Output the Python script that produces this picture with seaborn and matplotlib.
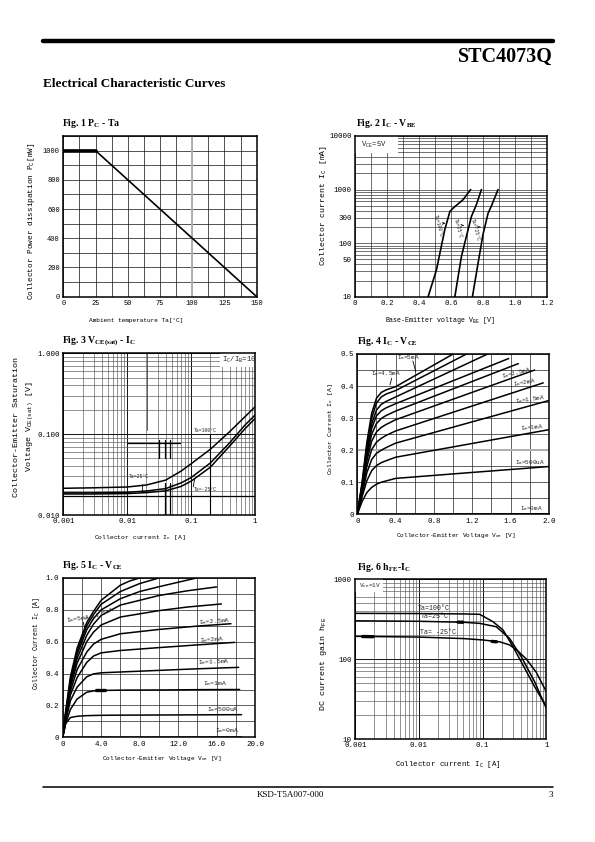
import matplotlib
matplotlib.use("Agg")
import matplotlib.pyplot as plt
import seaborn as sns
import numpy as np
from matplotlib.lines import Line2D
from matplotlib.patches import Rectangle
from matplotlib.ticker import LogLocator, NullFormatter

# ---------------- data ----------------
# Fig.1 Pc - Ta
pc_temp = [0, 25, 150]
pc_power = [1000, 1000, 0]
pc_xticks = [0, 25, 50, 75, 100, 125, 150]
pc_yticks = [0, 200, 400, 600, 800, 1000]

# Fig.2 Ic - VBE  (Ic in mA)
vbe_100 = [0.457, 0.509, 0.561, 0.593, 0.613, 0.676, 0.723]
ic_100 = [10, 31.6, 178, 389, 450, 650, 1000]
vbe_25 = [0.624, 0.665, 0.696, 0.728, 0.759, 0.790]
ic_25 = [10, 56, 133, 316, 525, 1000]
vbe_m25 = [0.734, 0.769, 0.800, 0.832, 0.852, 0.894]
ic_m25 = [10, 42, 145, 363, 490, 1000]
f2_yticks = [10, 50, 100, 300, 1000, 10000]
f2_xticks = [0, 0.2, 0.4, 0.6, 0.8, 1.0, 1.2]

# Fig.3 VCE(sat) - Ic
sat_ic = [0.001, 0.003, 0.01, 0.02, 0.04, 0.07, 0.1, 0.2, 0.4, 0.7, 1.0]
sat_100 = [0.0214, 0.0217, 0.0222, 0.0235, 0.027, 0.035, 0.043, 0.065, 0.107, 0.165, 0.217]
sat_25 = [0.0188, 0.0188, 0.0191, 0.0198, 0.0212, 0.025, 0.029, 0.044, 0.078, 0.130, 0.172]
sat_m25 = [0.0182, 0.0182, 0.0184, 0.0189, 0.0199, 0.0226, 0.0262, 0.039, 0.071, 0.117, 0.156]

# Fig.4 Ic - VCE (0-2 V)
f4_v = [0, 0.05, 0.1, 0.15, 0.2, 0.25, 0.3, 0.4]
f4_ib5 = [0, 0.100, 0.225, 0.315, 0.362, 0.380, 0.388, 0.398]
f4_ib45 = [0, 0.095, 0.215, 0.300, 0.347, 0.366, 0.375, 0.386]
f4_ib4 = [0, 0.090, 0.200, 0.282, 0.325, 0.343, 0.352, 0.366]
f4_ib35 = [0, 0.085, 0.190, 0.268, 0.307, 0.323, 0.332, 0.345]
f4_ib3 = [0, 0.080, 0.180, 0.250, 0.283, 0.299, 0.308, 0.322]
f4_ib25 = [0, 0.075, 0.166, 0.228, 0.257, 0.271, 0.280, 0.295]
f4_ib2 = [0, 0.070, 0.150, 0.202, 0.225, 0.237, 0.246, 0.260]
f4_ib15 = [0, 0.063, 0.130, 0.171, 0.190, 0.200, 0.208, 0.222]
f4_ib1 = [0, 0.055, 0.105, 0.136, 0.152, 0.161, 0.167, 0.178]
f4_ib05 = [0, 0.040, 0.068, 0.084, 0.094, 0.100, 0.104, 0.112]
f4_end_v = [1.00, 1.14, 1.36, 1.58, 1.68, 1.85, 1.94, 2.0, 2.0, 2.0]
f4_end_i = [0.500, 0.500, 0.500, 0.486, 0.470, 0.450, 0.410, 0.355, 0.264, 0.149]

# Fig.5 Ic - VCE (0-20 V)
f5_v = [0, 0.3, 0.8, 1.5, 2.5, 3.2, 4.0, 6.0]
f5_ib5 = [0, 0.160, 0.380, 0.560, 0.720, 0.790, 0.860, 0.955]
f5_ib45 = [0, 0.150, 0.360, 0.540, 0.700, 0.770, 0.835, 0.915]
f5_ib4 = [0, 0.145, 0.350, 0.520, 0.675, 0.745, 0.800, 0.870]
f5_ib35 = [0, 0.140, 0.335, 0.495, 0.640, 0.710, 0.765, 0.830]
f5_ib3 = [0, 0.130, 0.315, 0.465, 0.600, 0.660, 0.705, 0.755]
f5_ib25 = [0, 0.120, 0.290, 0.425, 0.535, 0.585, 0.615, 0.650]
f5_ib2 = [0, 0.110, 0.265, 0.375, 0.470, 0.510, 0.530, 0.545]
f5_ib15 = [0, 0.100, 0.230, 0.315, 0.380, 0.398, 0.405, 0.410]
f5_ib1 = [0, 0.085, 0.175, 0.240, 0.283, 0.291, 0.294, 0.296]
f5_ib05 = [0, 0.085, 0.124, 0.132, 0.136, 0.137, 0.138, 0.139]
f5_tail_v = [[7.0, 8.0], [8.0, 10.0], [8.0, 10.0, 13.9], [10, 13, 16.0], [10, 13, 16.5],
             [10, 14, 17.5], [10, 14, 17.9], [10, 14, 18.3], [10, 14, 18.4], [10, 14, 18.6]]
f5_tail_i = [[0.982, 1.0], [0.965, 1.0], [0.915, 0.945, 1.0], [0.890, 0.920, 0.944],
             [0.795, 0.818, 0.837], [0.677, 0.698, 0.713], [0.563, 0.580, 0.596],
             [0.420, 0.430, 0.439], [0.297, 0.299, 0.300], [0.140, 0.141, 0.142]]

# Fig.6 hFE - Ic
h100_ic = [0.001, 0.01, 0.05, 0.0898, 0.145, 0.209, 0.299, 0.43, 0.656, 1.0]
h100 = [372, 370, 366, 362, 293, 231, 143, 84, 45, 25.3]
h25_ic = [0.001, 0.01, 0.05, 0.0898, 0.164, 0.265, 0.404, 0.656, 1.0]
h25 = [300, 296, 288, 279, 253, 181, 107, 52, 24.2]
hm25_ic = [0.001, 0.01, 0.05, 0.1, 0.185, 0.265, 0.35, 0.485, 0.697, 1.0]
hm25 = [192, 188, 180, 173, 164, 150, 128, 100, 68, 39]

log_xticks = [0.001, 0.01, 0.1, 1]
log_xlabels = ["0.001", "0.01", "0.1", "1"]

# ---------------- figure ----------------
sns.set_theme(style="white")
plt.rcParams['font.family'] = ['Liberation Mono', 'DejaVu Sans Mono', 'DejaVu Sans']
plt.rcParams['mathtext.default'] = 'regular'

W, H = 595, 842
fig = plt.figure(figsize=(W / 100, H / 100), dpi=100)
fig.patch.set_facecolor('white')
SERIF = ['Liberation Serif', 'DejaVu Serif']


def fy(y):
    return 1 - y / H


def make_axes(box, tsize=5.4):
    L, T, R, B = box
    ax = fig.add_axes([L / W, 1 - B / H, (R - L) / W, (B - T) / H])
    ax.set_facecolor('white')
    for s in ax.spines.values():
        s.set_visible(True)
        s.set_color('black')
        s.set_linewidth(1.1)
    ax.tick_params(which='both', length=0, pad=2.5, labelsize=tsize, colors='black')
    ax.set_axisbelow(True)
    return ax


def set_labels(ax, box, xl, xpos, xsize, yl, ypos, ysize, ylsp=1.2):
    L, T, R, B = box
    ax.set_xlabel(xl, fontsize=xsize, color='black')
    ax.xaxis.label.set_va('center')
    ax.xaxis.set_label_coords((xpos[0] - L) / (R - L), (B - xpos[1]) / (B - T))
    ax.set_ylabel(yl, fontsize=ysize, color='black', linespacing=ylsp)
    ax.yaxis.label.set_va('center')
    ax.yaxis.label.set_ha('center')
    ax.yaxis.set_label_coords((ypos[0] - L) / (R - L), (B - ypos[1]) / (B - T))


def curve(ax, x, y, lw=1.1):
    sns.lineplot(x=x, y=y, ax=ax, color='black', lw=lw, estimator=None, sort=False)


def title(x, y, s):
    fig.text(x / W, fy(y), s, fontfamily=SERIF, fontweight='bold', fontsize=7,
             ha='left', va='center', color='black')


# header / footer
fig.add_artist(Line2D([43 / W, 553 / W], [fy(40.5)] * 2, lw=3.2, color='black'))
fig.text(553 / W, fy(57), "STC4073Q", fontfamily=SERIF, fontweight='bold', fontsize=14.5,
         ha='right', va='center', color='black')
fig.text(43 / W, fy(84), "Electrical Characteristic Curves", fontfamily=SERIF, fontweight='bold',
         fontsize=9.5, ha='left', va='center', color='black')
fig.add_artist(Line2D([43 / W, 553 / W], [fy(787)] * 2, lw=1.1, color='black'))
fig.text(290 / W, fy(795), "KSD-T5A007-000", fontfamily=SERIF, fontsize=6.5,
         ha='center', va='center', color='black')
fig.text(553 / W, fy(795), "3", fontfamily=SERIF, fontsize=6.5, ha='right', va='center', color='black')

# ---------- Fig 1 ----------
B1 = (63.3, 136, 256.7, 296.7)
ax1 = make_axes(B1, 5.0)
curve(ax1, pc_temp, pc_power, 1.2)
curve(ax1, pc_temp[:2], pc_power[:2], 2.6)
ax1.set_xlim(0, 150)
ax1.set_ylim(0, 1100)
ax1.set_xticks(pc_xticks)
ax1.set_xticklabels([str(v) for v in pc_xticks])
ax1.set_yticks(pc_yticks)
ax1.set_yticklabels([str(v) for v in pc_yticks])
ax1.set_xticks(np.arange(0, 150.1, 12.5), minor=True)
ax1.set_yticks(np.arange(0, 1101, 100), minor=True)
ax1.grid(which='both', color='#222222', lw=0.55)
ax1.axvline(100, color='#b0b0b0', lw=1.4, zorder=1)
set_labels(ax1, B1, "Ambient temperature Ta[°C]", (136, 321), 4.4,
           "Collector Power dissipation P$_C$[mW]", (31.7, 221.7), 5.6)
title(62, 124, "Fig. 1 P$_C$ - Ta")

# ---------- Fig 2 ----------
B2 = (355, 136, 547, 296.7)
ax2 = make_axes(B2)
ax2.set_yscale('log')
curve(ax2, vbe_100, ic_100, 1.2)
curve(ax2, vbe_25, ic_25, 1.2)
curve(ax2, vbe_m25, ic_m25, 1.2)
ax2.set_xlim(0, 1.2)
ax2.set_ylim(10, 10000)
ax2.set_xticks(f2_xticks)
ax2.set_xticklabels(["0", "0.2", "0.4", "0.6", "0.8", "1.0", "1.2"])
ax2.set_yticks(f2_yticks)
ax2.set_yticklabels([str(v) for v in f2_yticks])
ax2.yaxis.set_minor_locator(LogLocator(base=10, subs=np.arange(2, 10)))
ax2.yaxis.set_minor_formatter(NullFormatter())
ax2.set_xticks(np.arange(0, 1.21, 0.1), minor=True)
ax2.grid(which='both', color='#222222', lw=0.45)
ax2.add_patch(Rectangle((0, 0.894), 0.224, 0.106, transform=ax2.transAxes,
                        facecolor='white', edgecolor='none', zorder=1.5))
ax2.text(0.04, 6700, "V$_{CE}$=5V", fontsize=5.2, ha='left', va='center', zorder=3)
for (tx, ty, ax_, ay_, lab) in [(0.52, 215, 0.565, 235, "Ta=100°C"),
                                 (0.645, 190, 0.697, 215, "Ta=25°C"),
                                 (0.752, 178, 0.80, 200, "Ta=-25°C")]:
    ax2.annotate("", xy=(ax_, ay_), xytext=(tx + 0.012, ay_),
                 arrowprops=dict(arrowstyle='->', lw=0.5, color='black', mutation_scale=4))
    ax2.text(tx, ty, lab, fontsize=3.5, rotation=-75, ha='center', va='center', zorder=3)
set_labels(ax2, B2, "Base-Emitter voltage V$_{BE}$ [V]", (439.5, 320.7), 4.8,
           "Collector current I$_C$ [mA]", (323.3, 205), 5.9)
title(356, 124, "Fig. 2 I$_C$ - V$_{BE}$")

# ---------- Fig 3 ----------
B3 = (63.3, 353.3, 255, 515)
ax3 = make_axes(B3)
ax3.set_xscale('log')
ax3.set_yscale('log')
curve(ax3, sat_ic, sat_100, 1.1)
curve(ax3, sat_ic, sat_25, 1.1)
curve(ax3, sat_ic, sat_m25, 1.1)
ax3.set_xlim(0.001, 1)
ax3.set_ylim(0.01, 1)
ax3.set_xticks(log_xticks)
ax3.set_xticklabels(log_xlabels)
ax3.set_yticks([0.01, 0.1, 1])
ax3.set_yticklabels(["0.010", "0.100", "1.000"])
for a in (ax3.xaxis, ax3.yaxis):
    a.set_minor_locator(LogLocator(base=10, subs=np.arange(2, 10)))
    a.set_minor_formatter(NullFormatter())
ax3.grid(which='major', color='#111111', lw=0.7)
ax3.grid(which='minor', color='#555555', lw=0.45)
ax3.axhline(0.0173, color='black', lw=0.9, zorder=1)
ax3.plot([0.0098, 0.0676], [0.0767, 0.0767], color='black', lw=0.9)
for xv in (0.0315, 0.039, 0.0468):
    ax3.plot([xv, xv], [0.0501, 0.0844], color='black', lw=0.9)
for xv in (0.039, 0.0468):
    ax3.plot([xv, xv], [0.01, 0.0246], color='black', lw=0.9)
ax3.plot([0.0206, 0.0206], [0.112, 1.0], color='#444444', lw=0.6)
ax3.plot([0.198, 0.198], [0.01, 0.097], color='black', lw=0.8)
ax3.plot([0.01687, 0.01687], [0.0194, 0.0239], color='black', lw=0.6)
ax3.plot([0.108, 0.114], [0.0223, 0.0284], color='black', lw=0.6)
ax3.text(0.169, 0.112, "Ta=100°C", fontsize=3.4, ha='center', va='center')
ax3.text(0.01545, 0.0303, "Ta=25°C", fontsize=3.4, ha='center', va='center')
ax3.text(0.165, 0.0204, "Ta=-25°C", fontsize=3.4, ha='center', va='center')
ax3.add_patch(Rectangle((0.817, 0.915), 0.183, 0.085, transform=ax3.transAxes,
                        facecolor='white', edgecolor='none', zorder=1.5))
ax3.text(0.31, 0.82, "I$_C$/I$_B$=10", fontsize=5.2, ha='left', va='center', zorder=3)
set_labels(ax3, B3, "Collector current I$_C$ [A]", (140, 537), 4.6,
           "Collector-Emitter Saturation\nVoltage V$_{CE(sat)}$ [V]", (24, 427), 6.0, 1.55)
title(62, 341, "Fig. 3 V$_{CE(sat)}$ - I$_C$")

# ---------- Fig 4 ----------
B4 = (357.3, 354, 549, 514.3)
ax4 = make_axes(B4)
f4_sets = [f4_ib5, f4_ib45, f4_ib4, f4_ib35, f4_ib3, f4_ib25, f4_ib2, f4_ib15, f4_ib1, f4_ib05]
for vals, ev, ei in zip(f4_sets, f4_end_v, f4_end_i):
    xs = list(f4_v) + [ev]
    ys = list(vals) + [ei]
    if vals is f4_ib05:
        xs = list(f4_v) + [1.0, ev]
        ys = list(vals) + [0.126, ei]
    curve(ax4, xs, ys, 1.1)
curve(ax4, [0, 2.0], [0, 0.002], 1.0)
ax4.set_xlim(0, 2.0)
ax4.set_ylim(0, 0.5)
ax4.set_xticks([0, 0.4, 0.8, 1.2, 1.6, 2.0])
ax4.set_xticklabels(["0", "0.4", "0.8", "1.2", "1.6", "2.0"])
ax4.set_yticks([0, 0.1, 0.2, 0.3, 0.4, 0.5])
ax4.set_yticklabels(["0", "0.1", "0.2", "0.3", "0.4", "0.5"])
ax4.set_xticks(np.arange(0, 2.01, 0.2), minor=True)
ax4.set_yticks(np.arange(0, 0.501, 0.05), minor=True)
ax4.grid(which='both', color='#222222', lw=0.5)
ax4.axhline(0.2, color='#b0b0b0', lw=1.4, zorder=1)
for (x, y, lab, rot) in [(0.532, 0.490, "I$_B$=5mA", 0), (0.298, 0.44, "I$_B$=4.5mA", 0),
                         (1.663, 0.442, "I$_B$=2.5mA", 14), (1.74, 0.41, "I$_B$=2mA", 10),
                         (1.80, 0.357, "I$_B$=1.5mA", 8), (1.826, 0.27, "I$_B$=1mA", 5),
                         (1.805, 0.16, "I$_B$=500uA", 0), (1.815, 0.017, "I$_B$=0mA", 0)]:
    ax4.text(x, y, lab, fontsize=4.3, rotation=rot, ha='center', va='center', zorder=3)
ax4.plot([0.58, 0.61], [0.478, 0.445], color='black', lw=0.6)
ax4.plot([0.359, 0.341], [0.424, 0.404], color='black', lw=0.6)
set_labels(ax4, B4, "Collector-Emitter Voltage V$_{CE}$ [V]", (455.8, 535), 4.4,
           "Collector Current I$_C$ [A]", (330.7, 429), 4.6)
title(357, 341, "Fig. 4 I$_C$ - V$_{CE}$")

# ---------- Fig 5 ----------
B5 = (62.7, 578, 255, 737.3)
ax5 = make_axes(B5)
f5_sets = [f5_ib5, f5_ib45, f5_ib4, f5_ib35, f5_ib3, f5_ib25, f5_ib2, f5_ib15, f5_ib1, f5_ib05]
for vals, tv, ti in zip(f5_sets, f5_tail_v, f5_tail_i):
    curve(ax5, list(f5_v) + list(tv), list(vals) + list(ti), 1.1)
curve(ax5, [0, 18.6], [0, 0.002], 1.0)
curve(ax5, [3.46, 4.4], [0.294, 0.294], 2.4)
ax5.set_xlim(0, 20)
ax5.set_ylim(0, 1.0)
ax5.set_xticks([0, 4, 8, 12, 16, 20])
ax5.set_xticklabels(["0", "4.0", "8.0", "12.0", "16.0", "20.0"])
ax5.set_yticks([0, 0.2, 0.4, 0.6, 0.8, 1.0])
ax5.set_yticklabels(["0", "0.2", "0.4", "0.6", "0.8", "1.0"])
ax5.set_xticks(np.arange(0, 20.1, 2), minor=True)
ax5.set_yticks(np.arange(0, 1.01, 0.1), minor=True)
ax5.grid(which='both', color='#222222', lw=0.5)
for (x, y, lab, rot) in [(3.9, 0.765, "I$_B$=4.5mA", 22), (1.62, 0.74, "I$_B$=5mA", 8),
                         (15.74, 0.73, "I$_B$=2.5mA", 4), (15.5, 0.615, "I$_B$=2mA", 4),
                         (15.74, 0.472, "I$_B$=1.5mA", 2), (15.8, 0.336, "I$_B$=1mA", 0),
                         (16.7, 0.174, "I$_B$=500uA", 0), (17.05, 0.04, "I$_B$=0mA", 0)]:
    ax5.text(x, y, lab, fontsize=4.6, rotation=rot, ha='center', va='center', zorder=3)
ax5.plot([2.14, 2.32], [0.722, 0.676], color='black', lw=0.6)
set_labels(ax5, B5, "Collector-Emitter Voltage V$_{CE}$ [V]", (162.3, 758.3), 4.4,
           "Collector Current I$_C$ [A]", (36, 643.3), 4.7)
title(62, 566, "Fig. 5 I$_C$ - V$_{CE}$")

# ---------- Fig 6 ----------
B6 = (355.3, 579, 546.3, 739)
ax6 = make_axes(B6)
ax6.set_xscale('log')
ax6.set_yscale('log')
curve(ax6, h100_ic, h100, 1.1)
curve(ax6, h25_ic, h25, 1.1)
curve(ax6, hm25_ic, hm25, 1.1)
curve(ax6, [0.0013, 0.0019], [191, 190], 2.4)
curve(ax6, [0.041, 0.049], [289, 288], 2.4)
curve(ax6, [0.14, 0.165], [166, 164], 2.4)
ax6.set_xlim(0.001, 1)
ax6.set_ylim(10, 1000)
ax6.set_xticks(log_xticks)
ax6.set_xticklabels(log_xlabels)
ax6.set_yticks([10, 100, 1000])
ax6.set_yticklabels(["10", "100", "1000"])
for a in (ax6.xaxis, ax6.yaxis):
    a.set_minor_locator(LogLocator(base=10, subs=np.arange(2, 10)))
    a.set_minor_formatter(NullFormatter())
ax6.grid(which='major', color='#111111', lw=0.7)
ax6.grid(which='minor', color='#555555', lw=0.45)
ax6.add_patch(Rectangle((0, 0.919), 0.145, 0.081, transform=ax6.transAxes,
                        facecolor='white', edgecolor='none', zorder=1.5))
ax6.text(0.00114, 840, "V$_{CE}$=1V", fontsize=4.4, ha='left', va='center', zorder=3)
ax6.text(0.00964, 430, "Ta=100°C", fontsize=4.8, ha='left', va='center')
ax6.text(0.01086, 338, "Ta=25°C", fontsize=4.8, ha='left', va='center')
ax6.text(0.01026, 213, "Ta= -25°C", fontsize=4.8, ha='left', va='center')
set_labels(ax6, B6, "Collector current I$_C$ [A]", (448.3, 765), 5.3,
           "DC current gain h$_{FE}$", (323.3, 664), 6.0)
title(357, 567, "Fig. 6 h$_{FE}$-I$_C$")

fig.savefig("out.png", dpi=100, facecolor='white')
